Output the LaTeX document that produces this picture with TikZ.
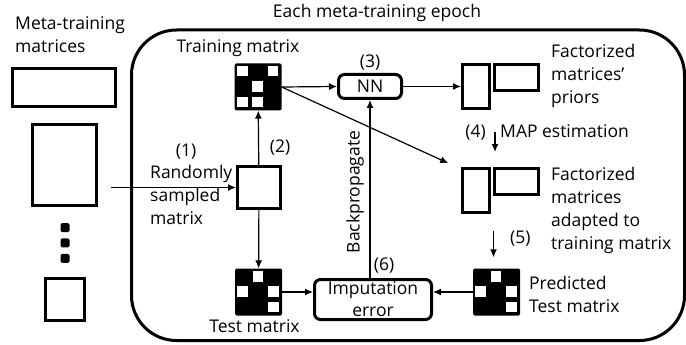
\documentclass[tikz,border=0pt]{standalone}
\usepackage{fontspec}
\setmainfont{Open Sans}
\usetikzlibrary{arrows.meta, positioning, calc}

% white cells of a small sparse matrix
\newcommand{\whitecells}[2]{%
  \foreach \c/\r in {#2}
    \fill[white] ($(#1.north west)+(2.6+15.4*\c,2.6+15.4*\r)$) rectangle +(10.6,10.6);}

\begin{document}
\begin{tikzpicture}[x=1pt, y=-1pt, node distance=4pt,
            % Styles
            every node/.style={font=\fontsize{17.5}{23}\selectfont, inner sep=0pt},
            txt/.style={align=left},
            mat/.style={rectangle, draw=black, line width=3pt, fill=white},
            grid/.style={rectangle, fill=black, rounded corners=1.5pt, minimum size=47pt},
            dotbox/.style={rectangle, fill=black, rounded corners=1.5pt, minimum size=9pt},
            proc/.style={rectangle, draw=black, line width=3pt, rounded corners=6pt, align=center},
            line/.style={draw, -{Latex[length=8pt, width=7pt]}, line width=1.2pt}
        ]
        \useasboundingbox (0,0) rectangle (686,345);

        % Epoch box
        \node [draw, line width=3pt, rounded corners=45pt, minimum width=553pt, minimum height=310.5pt] (epoch) at (408,185.25) {};
        \node [anchor=base] (title) at (377,18) {Each meta-training epoch};

        % Meta-training matrices
        \node [txt, anchor=north west] (metalbl) at (15,16) {Meta-training\\matrices};
        \node [mat, minimum width=103pt, minimum height=38pt] (metaA) at (64,87.5) {};
        \node [mat, minimum width=64pt, minimum height=81pt] (metaB) at (64.5,165) {};
        \node [dotbox] (dotA) at (65,227.5) {};
        \node [dotbox, below=6pt of dotA] (dotB) {};
        \node [dotbox, below=6pt of dotB] (dotC) {};
        \node [mat, minimum width=39pt, minimum height=42pt] (metaC) at (65,299.5) {};

        % Sampled matrix
        \coordinate (pick) at (111,187.5);
        \node [mat, minimum width=43pt, minimum height=42pt] (sampled) at (259,187.5) {};
        \node [anchor=base] (s1) at (186,156) {(1)};
        \node [txt, anchor=north west] (samplbl) at (150,165) {Randomly\\sampled\\matrix};
        \node [anchor=base] (s2) at (280,152) {(2)};

        % Training and test matrices
        \node [grid] (train) at (258,87) {};
        \whitecells{train}{0/0,2/0,1/1,0/2,1/2}
        \node [anchor=base] (trainlbl) at (238,53) {Training matrix};
        \node [grid] (test) at (258.5,292) {};
        \whitecells{test}{1/0,0/1,2/1,2/2}
        \node [anchor=base] (testlbl) at (254.5,332) {Test matrix};

        % NN
        \node [proc, minimum width=63pt, minimum height=24pt] (nn) at (370,86.5) {NN};
        \node [anchor=base] (s3) at (370,67) {(3)};

        % Factorized matrices
        \node [mat, minimum width=27pt, minimum height=44pt] (priorsL) at (476,86.5) {};
        \node [mat, minimum width=44pt, minimum height=26pt, right=2pt of priorsL.north east, anchor=north west] (priorsR) {};
        \node [txt, anchor=north west] (priorslbl) at (551,44) {Factorized\\matrices'\\priors};
        \node [anchor=base east] (s4) at (486,138) {(4)};
        \node [anchor=base west] (maplbl) at (500,138) {MAP estimation};
        \node [mat, minimum width=27pt, minimum height=44pt] (adaptL) at (476,190.5) {};
        \node [mat, minimum width=44pt, minimum height=26pt, right=2pt of adaptL.north east, anchor=north west] (adaptR) {};
        \node [txt, anchor=north west] (adaptlbl) at (551,167) {Factorized\\matrices\\adapted to\\training matrix};
        \node [anchor=base west] (s5) at (510,243) {(5)};

        % Prediction and error
        \node [grid] (pred) at (496.5,292) {};
        \whitecells{pred}{1/0,0/1,2/1,2/2}
        \node [txt, anchor=north west] (predlbl) at (529,276) {Predicted\\Test matrix};
        \node [proc, minimum width=117pt, minimum height=40pt, font=\fontsize{17.5}{22}\selectfont] (imput) at (373,299.5) {Imputation\\error};
        \node [anchor=base] (s6) at (384,270) {(6)};
        \node [rotate=90] (bplbl) at (355,192) {Backpropagate};

        % Edges
        \path [line] (pick) -- (sampled);
        \path [line] (sampled) -- (train);
        \path [line] (sampled) -- (test);
        \path [line] (train.east) -- (nn.west);
        \path [line] (nn) -- (priorsL);
        \path [line, shorten >=14pt] (train.east) -- ([yshift=-2pt]adaptL.north west);
        \path [line, shorten <=22pt, shorten >=15pt] ([xshift=4pt]priorsL.south east) -- ([xshift=4pt]adaptL.north east);
        \path [line, shorten <=17pt, shorten >=11pt] ([xshift=-3pt]pred.north |- adaptL.south) -- ([xshift=-3pt]pred.north);
        \path [line] (test.east) -- (test.east -| imput.west);
        \path [line] (pred.west) -- (pred.west -| imput.east);
        \path [line] (nn |- imput.north) -- (nn);

    \end{tikzpicture}
\end{document}
